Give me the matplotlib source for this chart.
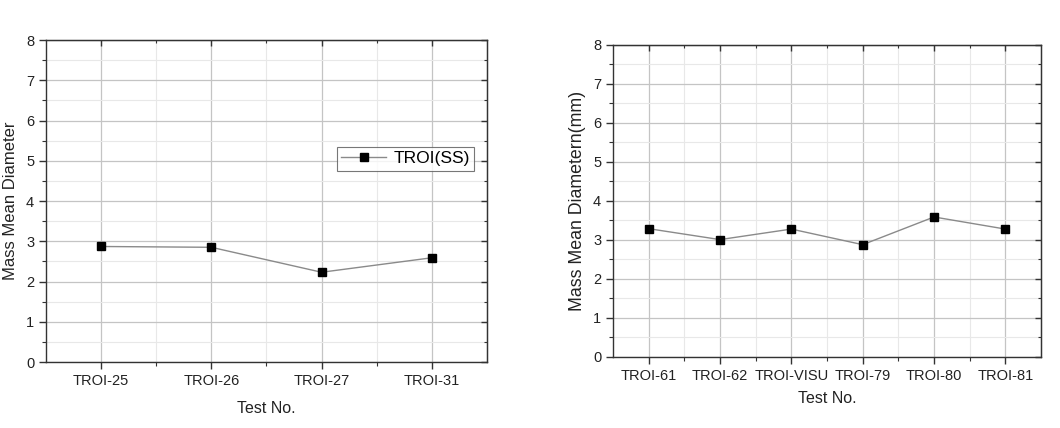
import matplotlib
matplotlib.use('Agg')
import matplotlib.pyplot as plt
from matplotlib.ticker import MultipleLocator, FixedLocator

plt.rcParams['font.family'] = ['Liberation Sans', 'DejaVu Sans']

# 左图数据
tests_a = ['TROI-25', 'TROI-26', 'TROI-27', 'TROI-31']
mmd_a = [2.87, 2.85, 2.23, 2.59]

# 右图数据
tests_b = ['TROI-61', 'TROI-62', 'TROI-VISU', 'TROI-79', 'TROI-80', 'TROI-81']
mmd_b = [3.29, 3.01, 3.28, 2.88, 3.59, 3.28]

LINE = '#8a8a8a'
SPINE = '#333333'
TEXT = '#222222'
GRID_MAJ = '#c4c4c4'
GRID_MIN = '#e8e8e8'


def style_axis(ax, n):
    ax.set_xlim(0.5, n + 0.5)
    ax.set_ylim(0, 8)
    ax.xaxis.set_major_locator(FixedLocator(range(1, n + 1)))
    ax.xaxis.set_minor_locator(FixedLocator([i + 0.5 for i in range(1, n)]))
    ax.yaxis.set_major_locator(MultipleLocator(1))
    ax.yaxis.set_minor_locator(MultipleLocator(0.5))
    ax.grid(True, which='major', color=GRID_MAJ, linewidth=0.9)
    ax.grid(True, which='minor', color=GRID_MIN, linewidth=0.8)
    ax.set_axisbelow(True)
    for sp in ax.spines.values():
        sp.set_color(SPINE)
        sp.set_linewidth(1.0)
    ax.tick_params(which='major', direction='out', length=5, width=1.0,
                   color=SPINE, labelsize=10.5, labelcolor=TEXT)
    ax.tick_params(which='minor', direction='out', length=3, width=0.8, color=SPINE)
    # 顶部和右侧的内向刻度
    top = ax.secondary_xaxis('top')
    top.set_zorder(4)
    top.xaxis.set_major_locator(FixedLocator(range(1, n + 1)))
    top.xaxis.set_minor_locator(FixedLocator([i + 0.5 for i in range(1, n)]))
    top.tick_params(which='major', direction='in', length=4, width=1.0,
                    color=SPINE, labeltop=False)
    top.tick_params(which='minor', direction='in', length=2.5, width=0.8, color=SPINE)
    top.spines['top'].set_color(SPINE)
    right = ax.secondary_yaxis('right')
    right.set_zorder(4)
    right.yaxis.set_major_locator(MultipleLocator(1))
    right.yaxis.set_minor_locator(MultipleLocator(0.5))
    right.tick_params(which='major', direction='in', length=4, width=1.0,
                      color=SPINE, labelright=False)
    right.tick_params(which='minor', direction='in', length=2.5, width=0.8, color=SPINE)
    right.spines['right'].set_color(SPINE)


fig = plt.figure(figsize=(10.6, 4.28), dpi=100)
fig.patch.set_facecolor('white')

ax1 = fig.add_axes([0.0434, 0.1542, 0.416, 0.7523])
ax1.plot(range(1, len(tests_a) + 1), mmd_a, color=LINE, linewidth=1.0,
         marker='s', markersize=6, markerfacecolor='black',
         markeredgecolor='black', label='TROI(SS)', zorder=5)
style_axis(ax1, len(tests_a))
ax1.set_xticklabels(tests_a)
ax1.set_xlabel('Test No.', fontsize=11.5, color=TEXT)
ax1.set_ylabel('Mass Mean Diameter', fontsize=12, color=TEXT)
ax1.xaxis.set_label_coords(0.5, -0.121)
ax1.yaxis.set_label_coords(-0.0635, 0.5)
leg = ax1.legend(loc='upper left', bbox_to_anchor=(0.64, 0.695), fontsize=12.5,
                 frameon=True, fancybox=False, edgecolor='#555555',
                 borderpad=0.25, handlelength=2.6, handletextpad=0.4)
leg.get_frame().set_linewidth(0.8)
leg.set_zorder(6)

ax2 = fig.add_axes([0.5783, 0.1659, 0.4038, 0.729])
ax2.plot(range(1, len(tests_b) + 1), mmd_b, color=LINE, linewidth=1.0,
         marker='s', markersize=6, markerfacecolor='black',
         markeredgecolor='black', zorder=5)
style_axis(ax2, len(tests_b))
ax2.set_xticklabels(tests_b)
ax2.set_xlabel('Test No.', fontsize=11.5, color=TEXT)
ax2.set_ylabel('Mass Mean Diametern(mm)', fontsize=12.8, color=TEXT)
ax2.xaxis.set_label_coords(0.5, -0.11)
ax2.yaxis.set_label_coords(-0.063, 0.5)

fig.savefig('out.png', dpi=100, facecolor='white')
